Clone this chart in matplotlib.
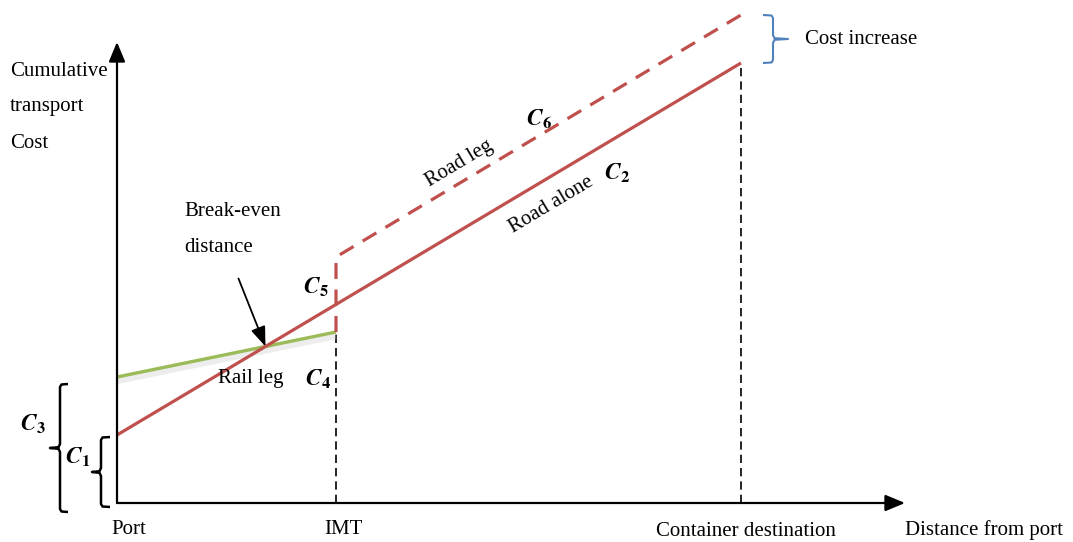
import matplotlib
matplotlib.use("Agg")
import matplotlib.pyplot as plt
import numpy as np

plt.rcParams["mathtext.fontset"] = "stix"

# ---- data (distance from port, cumulative cost; arbitrary schematic units) ----
stops = ["Port", "IMT", "Container destination"]
stop_dist = [0, 219, 624]
road_alone_dist = [0, 624]
road_alone_cost = [68, 440]
rail_leg_dist = [0, 219]
rail_leg_cost = [126, 171]
road_leg_dist = [219, 624]
road_leg_cost = [246, 488]
axis_x_max = 788
axis_y_max = 461

RED = "#c0504d"
GREEN = "#9bbb59"
BLUE = "#4f81bd"
SERIF = ["Liberation Serif", "DejaVu Serif"]

fig = plt.figure(figsize=(10.73, 5.42), dpi=100)
ax = fig.add_axes([0, 0, 1, 1])
ax.set_xlim(-117, 1073 - 117)
ax.set_ylim(-39, 503)
ax.axis("off")

def px(x, y):
    return x - 117, 503 - y

# axes arrows
ax.annotate("", xy=(axis_x_max, 0), xytext=(0, 0),
            arrowprops=dict(arrowstyle="-|>,head_length=1.2,head_width=0.5", lw=1.6, color="black", shrinkA=0, shrinkB=0))
ax.annotate("", xy=(0, axis_y_max), xytext=(0, 0),
            arrowprops=dict(arrowstyle="-|>,head_length=1.2,head_width=0.5", lw=1.6, color="black", shrinkA=0, shrinkB=0))

# black dashed drop lines
ax.plot([stop_dist[1], stop_dist[1]], [0, rail_leg_cost[1]], color="black", lw=1.2, ls=(0, (5, 3)))
ax.plot([stop_dist[2], stop_dist[2]], [0, road_alone_cost[1]], color="black", lw=1.2, ls=(0, (5, 3)))

# rail leg with soft shadow
ax.plot(rail_leg_dist, [c - 4 for c in rail_leg_cost], color="#cccccc", lw=4.5, alpha=0.35, solid_capstyle="butt")
ax.plot(rail_leg_dist, rail_leg_cost, color=GREEN, lw=2.4, solid_capstyle="butt")

# road alone
ax.plot(road_alone_dist, road_alone_cost, color=RED, lw=2.3, solid_capstyle="butt")

# road leg (dashed) incl. vertical jump at IMT
ax.plot([road_leg_dist[0], road_leg_dist[0], road_leg_dist[1]],
        [rail_leg_cost[1], road_leg_cost[0], road_leg_cost[1]],
        color=RED, lw=2.3, ls=(0, (5, 3.3)), dash_capstyle="butt")

# break-even arrow
s_r = (road_alone_cost[1] - road_alone_cost[0]) / (road_alone_dist[1] - road_alone_dist[0])
s_g = (rail_leg_cost[1] - rail_leg_cost[0]) / (rail_leg_dist[1] - rail_leg_dist[0])
be_x = (rail_leg_cost[0] - road_alone_cost[0]) / (s_r - s_g)
be_y = road_alone_cost[0] + s_r * be_x
ax.annotate("", xy=(be_x, be_y), xytext=(be_x - 27, be_y + 68),
            arrowprops=dict(arrowstyle="-|>,head_length=1.2,head_width=0.45", lw=1.3, color="black", shrinkA=0, shrinkB=0))

# curly braces (pixel-defined shapes)
def brace(xv, ytop, ybot, xhook, xtip, color, lw=1.8):
    ym = (ytop + ybot) / 2
    sgn = 1 if xhook > xv else -1
    pts = [(xhook, ytop), (xv + sgn * 1.5, ytop + 0.5), (xv, ytop + 3),
           (xv, ym - 4), (xv - sgn * 1.5, ym - 0.8), (xtip, ym),
           (xv - sgn * 1.5, ym + 0.8), (xv, ym + 4),
           (xv, ybot - 3), (xv + sgn * 1.5, ybot - 0.5), (xhook, ybot)]
    xs, ys = zip(*[px(a, b) for a, b in pts])
    ax.plot(xs, ys, color=color, lw=lw, solid_joinstyle="round", solid_capstyle="butt")

brace(60, 384, 512, 68, 50, "black")
brace(101, 437, 507, 110, 92, "black")
brace(773, 15, 63, 763, 788, BLUE, lw=1.5)

# texts
fs = 15
def t(xp, yp, s, ha="center", va="center", rot=0, size=fs, family=SERIF, **kw):
    x, y = px(xp, yp)
    ax.text(x, y, s, ha=ha, va=va, rotation=rot, rotation_mode="anchor",
            fontsize=size, family=family, **kw)

t(10, 72, "Cumulative", ha="left")
t(10, 107, "transport", ha="left")
t(10, 143, "Cost", ha="left")
t(805, 40, "Cost increase", ha="left")
t(184, 211, "Break-even", ha="left")
t(184, 247, "distance", ha="left")
t(251, 379, "Rail leg")
ang = np.degrees(np.arctan(s_r))
t(459, 164, "Road leg", rot=ang)
t(551, 205, "Road alone", rot=ang)
t(129, 530, stops[0])
t(343, 530, stops[1])
t(746, 532, stops[2])
t(905, 530, "Distance from port", ha="left")

mfs = 17
t(539, 119, r"$\mathbfit{C}_{\mathbf{6}}$", size=mfs)
t(617, 173, r"$\mathbfit{C}_{\mathbf{2}}$", size=mfs)
t(316, 287, r"$\mathbfit{C}_{\mathbf{5}}$", size=mfs)
t(318, 379, r"$\mathbfit{C}_{\mathbf{4}}$", size=mfs)
t(33, 424, r"$\mathbfit{C}_{\mathbf{3}}$", size=mfs)
t(78, 457, r"$\mathbfit{C}_{\mathbf{1}}$", size=mfs)

fig.savefig("out.png", dpi=100)
